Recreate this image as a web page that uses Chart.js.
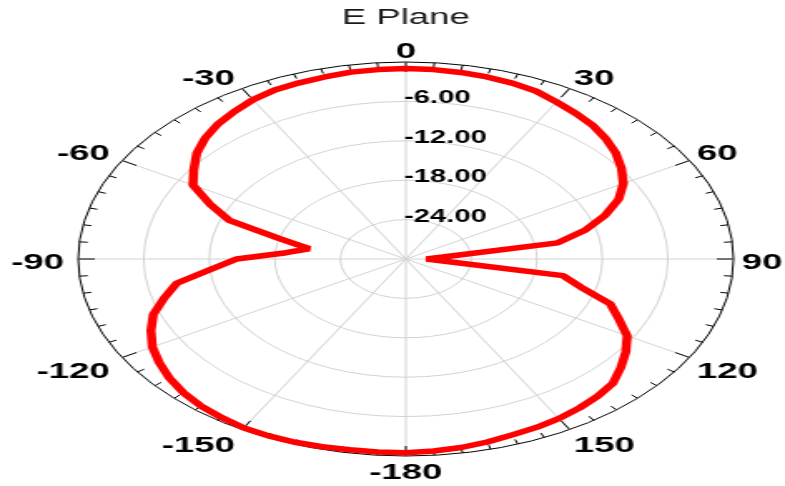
<!DOCTYPE html>
<html>
<head>
<meta charset="utf-8">
<title>E Plane</title>
<script src="https://cdn.jsdelivr.net/npm/chart.js@4.4.1/dist/chart.umd.min.js"></script>
<style>
  html, body { margin: 0; padding: 0; background: #fff; overflow: hidden; }
  /* the original plot is a circle stretched sideways, so the canvas is too */
  #polarChart { display: block; width: 785px !important; height: 486px !important; }
</style>
</head>
<body>
<canvas id="polarChart" width="472" height="486"></canvas>
<script>
// angle in degrees, clockwise from the top
const angleDeg = [
  0, 5, 10, 15, 20, 25, 30, 35, 40, 45, 50, 55,
  60, 65, 70, 75, 80, 85, 90, 95, 100, 105, 110, 115,
  120, 125, 130, 135, 140, 145, 150, 155, 160, 165, 170, 175,
  -180, -175, -170, -165, -160, -155, -150, -145, -140, -135, -130, -125,
  -120, -115, -110, -105, -100, -95, -90, -85, -80, -75, -70, -65,
  -60, -55, -50, -45, -40, -35, -30, -25, -20, -15, -10, -5
];

// normalised gain in dB
const gainDb = [
  -1.0, -1.05, -1.15, -1.3, -1.5, -1.8, -2.4, -2.9, -3.4, -4.1, -4.9, -5.9,
  -7.0, -8.5, -10.6, -13.0, -15.9, -26.6, -28.1, -26.6, -15.4, -13.4, -10.1, -8.5,
  -6.6, -5.4, -4.3, -3.2, -2.7, -2.3, -1.95, -1.7, -1.5, -1.15, -0.85, -0.65,
  -0.5, -0.5, -0.5, -0.4, -0.3, -0.28, -0.3, -0.55, -0.8, -1.2, -1.75, -2.45,
  -3.2, -4.25, -5.4, -7.1, -8.7, -12.1, -14.5, -19.0, -21.0, -18.1, -12.8, -10.2,
  -7.5, -6.3, -5.0, -4.0, -3.2, -2.6, -2.0, -1.6, -1.45, -1.3, -1.1, -1.05
];

const ringTicks = [-6, -12, -18, -24];
const rMin = -30;
const rMax = 0;

const FONT = '"Liberation Sans", Arial, sans-serif';

// rim tick marks, angle labels round the rim and dB labels up the 0 degree spoke
const polarDecor = {
  id: 'polarDecor',
  beforeDatasetsDraw(chart) {
    const scale = chart.scales.r;
    const ctx = chart.ctx;
    const outer = scale.getDistanceFromCenterForValue(rMax);
    ctx.save();
    ctx.strokeStyle = '#000';
    ctx.lineWidth = 1;
    angleDeg.forEach((a, i) => {
      const len = a % 30 === 0 ? 10 : 5;
      const p1 = scale.getPointPosition(i, outer);
      const p2 = scale.getPointPosition(i, outer - len);
      ctx.beginPath();
      ctx.moveTo(p1.x, p1.y);
      ctx.lineTo(p2.x, p2.y);
      ctx.stroke();
    });

    ctx.fillStyle = '#000';
    ctx.font = 'bold 22px ' + FONT;
    ctx.textBaseline = 'middle';
    angleDeg.forEach((a, i) => {
      if (a % 30 !== 0) return;
      const t = a * Math.PI / 180;
      const s = Math.sin(t);
      const c = Math.cos(t);
      const p = scale.getPointPosition(i, outer);
      let x = p.x;
      if (Math.abs(s) < 0.01) {
        ctx.textAlign = 'center';
      } else if (s > 0) {
        ctx.textAlign = 'left';
        x += s * 5;
      } else {
        ctx.textAlign = 'right';
        x += s * 8.5;
      }
      let y = p.y - c * 6 + 3.5;
      if (c > 0.01) y -= 7.5;
      else if (c < -0.01) y += 7.5;
      ctx.fillText(String(a), x, y);
    });

    ctx.font = 'bold 17.5px ' + FONT;
    ctx.textAlign = 'left';
    ctx.textBaseline = 'alphabetic';
    ringTicks.forEach(v => {
      const d = scale.getDistanceFromCenterForValue(v);
      ctx.fillText(v.toFixed(2), scale.xCenter - 1, scale.yCenter - d + 2);
    });
    ctx.restore();
  }
};

new Chart(document.getElementById('polarChart'), {
  type: 'radar',
  data: {
    labels: angleDeg,
    datasets: [{
      label: 'E Plane',
      data: gainDb,
      borderColor: '#ff0000',
      borderWidth: 5.5,
      borderJoinStyle: 'bevel',
      pointRadius: 0,
      fill: false,
      tension: 0
    }]
  },
  options: {
    responsive: false,
    animation: false,
    layout: {
      padding: { left: 16, right: 0, top: 0, bottom: 29.5 }
    },
    plugins: {
      legend: { display: false },
      tooltip: { enabled: false },
      title: {
        display: true,
        text: 'E Plane',
        color: '#1a1a1a',
        font: { family: FONT, size: 22, weight: 'normal' },
        padding: { top: 5, bottom: 31.1 }
      }
    },
    scales: {
      r: {
        min: rMin,
        max: rMax,
        ticks: { stepSize: 6, display: false },
        grid: {
          circular: true,
          color: ctx => ctx.tick && ctx.tick.value === rMax ? '#000' : '#d2d2d2',
          lineWidth: 1
        },
        angleLines: {
          display: true,
          color: '#d2d2d2',
          lineWidth: ctx => angleDeg[ctx.index] % 30 === 0 ? 1 : 0
        },
        pointLabels: { display: false }
      }
    }
  },
  plugins: [polarDecor]
});
</script>
</body>
</html>
